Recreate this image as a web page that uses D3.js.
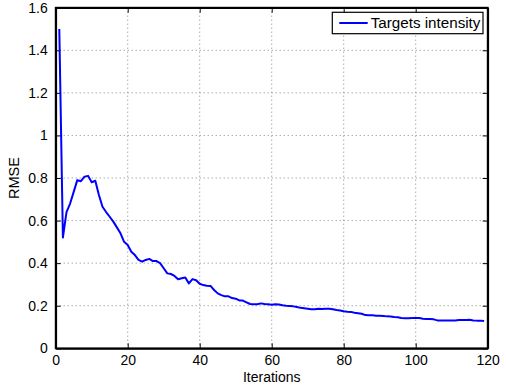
<!DOCTYPE html>
<html>
<head>
<meta charset="utf-8">
<script src="https://cdn.jsdelivr.net/npm/d3@7"></script>
<style>
  body { margin: 0; background: #fff; }
  text { font-family: "Liberation Sans", Arial, Helvetica, sans-serif; }
</style>
</head>
<body>
<div id="chart"></div>
<script>
// RMSE per iteration (iterations 1..119)
const rmse = [
  1.50, 0.52, 0.64, 0.68, 0.735, 0.79, 0.785, 0.806, 0.81, 0.78,
  0.787, 0.72, 0.665, 0.64, 0.618, 0.595, 0.568, 0.54, 0.50, 0.485,
  0.454, 0.438, 0.415, 0.407, 0.415, 0.42, 0.41, 0.41, 0.40, 0.376,
  0.352, 0.349, 0.34, 0.324, 0.329, 0.333, 0.305, 0.325, 0.32, 0.303,
  0.297, 0.294, 0.293, 0.274, 0.258, 0.25, 0.244, 0.244, 0.236, 0.233,
  0.225, 0.224, 0.216, 0.208, 0.207, 0.207, 0.211, 0.208, 0.207, 0.205,
  0.207, 0.206, 0.202, 0.20, 0.199, 0.197, 0.194, 0.19, 0.188, 0.186,
  0.183, 0.183, 0.186, 0.185, 0.186, 0.186, 0.183, 0.18, 0.178, 0.174,
  0.172, 0.171, 0.167, 0.165, 0.162, 0.156, 0.155, 0.155, 0.153, 0.153,
  0.152, 0.15, 0.149, 0.147, 0.146, 0.142, 0.141, 0.141, 0.142, 0.142,
  0.142, 0.139, 0.138, 0.138, 0.136, 0.131, 0.131, 0.131, 0.131, 0.131,
  0.131, 0.133, 0.133, 0.133, 0.134, 0.131, 0.13, 0.13, 0.128
];
const iterations = rmse.map((d, i) => i + 1);
const xTicks = [0, 20, 40, 60, 80, 100, 120];
const yTicks = [0, 0.2, 0.4, 0.6, 0.8, 1, 1.2, 1.4, 1.6];
const seriesName = 'Targets intensity';

const width = 506, height = 387;
const margin = { top: 7.7, right: 18.3, bottom: 38.7, left: 55.7 };
const w = width - margin.left - margin.right;
const h = height - margin.top - margin.bottom;

const svg = d3.select('#chart').append('svg')
  .attr('width', width)
  .attr('height', height);
const g = svg.append('g')
  .attr('transform', 'translate(' + margin.left + ',' + margin.top + ')');

const x = d3.scaleLinear().domain([0, 120]).range([0, w]);
const y = d3.scaleLinear().domain([0, 1.6]).range([h, 0]);

// grid (dotted)
g.append('g').selectAll('line')
  .data(xTicks.slice(1, -1))
  .enter().append('line')
  .attr('x1', d => x(d)).attr('x2', d => x(d))
  .attr('y1', 0).attr('y2', h)
  .attr('stroke', '#666').attr('stroke-width', 0.8)
  .attr('stroke-dasharray', '1,3');
g.append('g').selectAll('line')
  .data(yTicks.slice(1, -1))
  .enter().append('line')
  .attr('y1', d => y(d)).attr('y2', d => y(d))
  .attr('x1', 0).attr('x2', w)
  .attr('stroke', '#666').attr('stroke-width', 0.8)
  .attr('stroke-dasharray', '1,3');

// axes, ticks inward like matlab
const tickLen = 5;
g.append('g')
  .attr('transform', 'translate(0,' + h + ')')
  .call(d3.axisBottom(x).tickValues(xTicks).tickSizeInner(-tickLen).tickSizeOuter(0).tickPadding(7));
g.append('g')
  .call(d3.axisLeft(y).tickValues(yTicks).tickFormat(d3.format('')).tickSizeInner(-tickLen).tickSizeOuter(0).tickPadding(8));
g.append('g')
  .call(d3.axisTop(x).tickValues(xTicks).tickSizeInner(-tickLen).tickSizeOuter(0).tickFormat(''));
g.append('g')
  .attr('transform', 'translate(' + w + ',0)')
  .call(d3.axisRight(y).tickValues(yTicks).tickSizeInner(-tickLen).tickSizeOuter(0).tickFormat(''));

g.selectAll('.domain').attr('stroke', '#000').attr('stroke-width', 1.8);
g.selectAll('.tick line').attr('stroke', '#000').attr('stroke-width', 1);
g.selectAll('.tick text').attr('fill', '#000').style('font-size', '14px');

// box
g.append('rect')
  .attr('width', w).attr('height', h)
  .attr('fill', 'none').attr('stroke', '#000').attr('stroke-width', 1.8);

// line
const line = d3.line()
  .x((d, i) => x(iterations[i]))
  .y(d => y(d));
g.append('path')
  .datum(rmse)
  .attr('d', line)
  .attr('fill', 'none')
  .attr('stroke', '#0000ff')
  .attr('stroke-width', 2)
  .attr('stroke-linejoin', 'round');

// axis labels
g.append('text')
  .attr('x', w / 2).attr('y', h + 33.8)
  .attr('text-anchor', 'middle')
  .style('font-size', '14px')
  .text('Iterations');
g.append('text')
  .attr('transform', 'translate(' + (-37) + ',' + (h / 2) + ') rotate(-90)')
  .attr('text-anchor', 'middle')
  .style('font-size', '14.5px')
  .text('RMSE');

// legend
const legW = 150.7, legH = 21.4;
const leg = g.append('g')
  .attr('transform', 'translate(' + (w - 4.7 - legW) + ',' + 4.6 + ')');
leg.append('rect')
  .attr('width', legW).attr('height', legH)
  .attr('fill', '#fff').attr('stroke', '#000').attr('stroke-width', 1.2);
leg.append('line')
  .attr('x1', 7).attr('x2', 35.4)
  .attr('y1', legH / 2).attr('y2', legH / 2)
  .attr('stroke', '#0000ff').attr('stroke-width', 2);
leg.append('text')
  .attr('x', 38.4).attr('y', legH / 2 + 5.5)
  .style('font-size', '15.2px')
  .text(seriesName);
</script>
</body>
</html>
